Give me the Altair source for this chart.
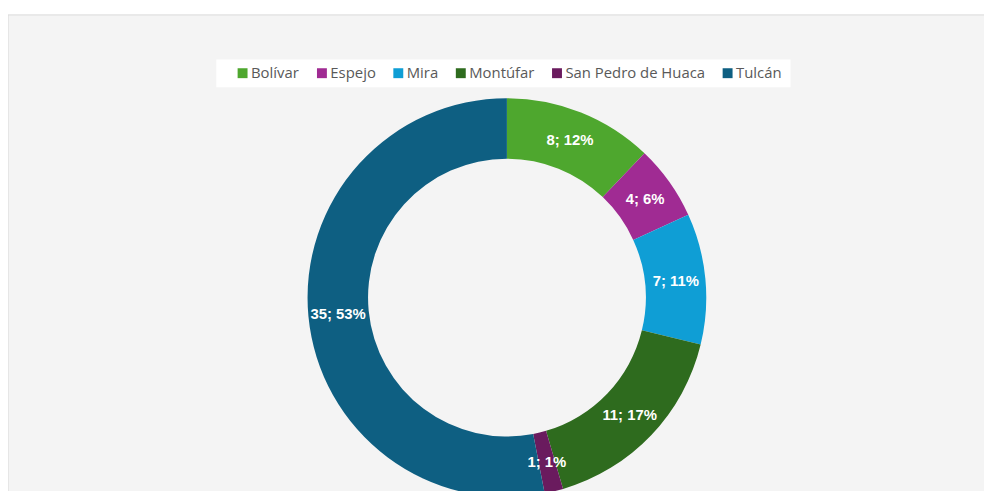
import altair as alt
import pandas as pd

categories = ["Bolívar", "Espejo", "Mira", "Montúfar", "San Pedro de Huaca", "Tulcán"]
values = [8, 4, 7, 11, 1, 35]
labels = ["8; 12%", "4; 6%", "7; 11%", "11; 17%", "1; 1%", "35; 53%"]
colors = ["#4EA72E", "#A02B93", "#0F9ED5", "#2E6B1E", "#6A1B5E", "#0E5F82"]

df = pd.DataFrame({
    "cat": categories,
    "val": values,
    "lab": labels,
    "ord": list(range(len(categories))),
})

CX, CY = 503, 290

one = pd.DataFrame({"a": [0]})

frame = alt.Chart(one).mark_rect(
    fill="#f4f4f4", stroke="#d9d9d9", strokeWidth=1
).encode(
    x=alt.value(0), x2=alt.value(1100), y=alt.value(5), y2=alt.value(700)
)

legend_box = alt.Chart(one).mark_rect(fill="white").encode(
    x=alt.value(210), x2=alt.value(789), y=alt.value(50), y2=alt.value(78)
)

base = alt.Chart(df).encode(
    theta=alt.Theta("val:Q", stack=True),
    order=alt.Order("ord:Q", sort="ascending"),
)

arc = base.mark_arc(outerRadius=201, innerRadius=140, stroke=None).encode(
    x=alt.value(CX),
    y=alt.value(CY),
    color=alt.Color(
        "cat:N",
        scale=alt.Scale(domain=categories, range=colors),
        sort=categories,
        legend=alt.Legend(
            title=None,
            orient="none",
            direction="horizontal",
            legendX=229,
            legendY=56,
            padding=0,
            symbolType="square",
            symbolSize=100,
            symbolStrokeWidth=0,
            labelFont="Open Sans",
            labelFontSize=15,
            labelColor="#595959",
            labelOffset=1,
            columnPadding=15,
        ),
    ),
)

text = base.mark_text(
    radius=171, font="Liberation Sans", fontSize=15, fontWeight="bold", color="white"
).encode(
    x=alt.value(CX),
    y=alt.value(CY),
    text="lab:N",
)

chart = alt.layer(frame, legend_box, arc, text).properties(
    width=984, height=483, padding=0, autosize=alt.AutoSizeParams(type="none"),
    background="white",
).configure_view(stroke=None)

chart.save("out.html", embed_options={"renderer": "svg", "actions": False})
